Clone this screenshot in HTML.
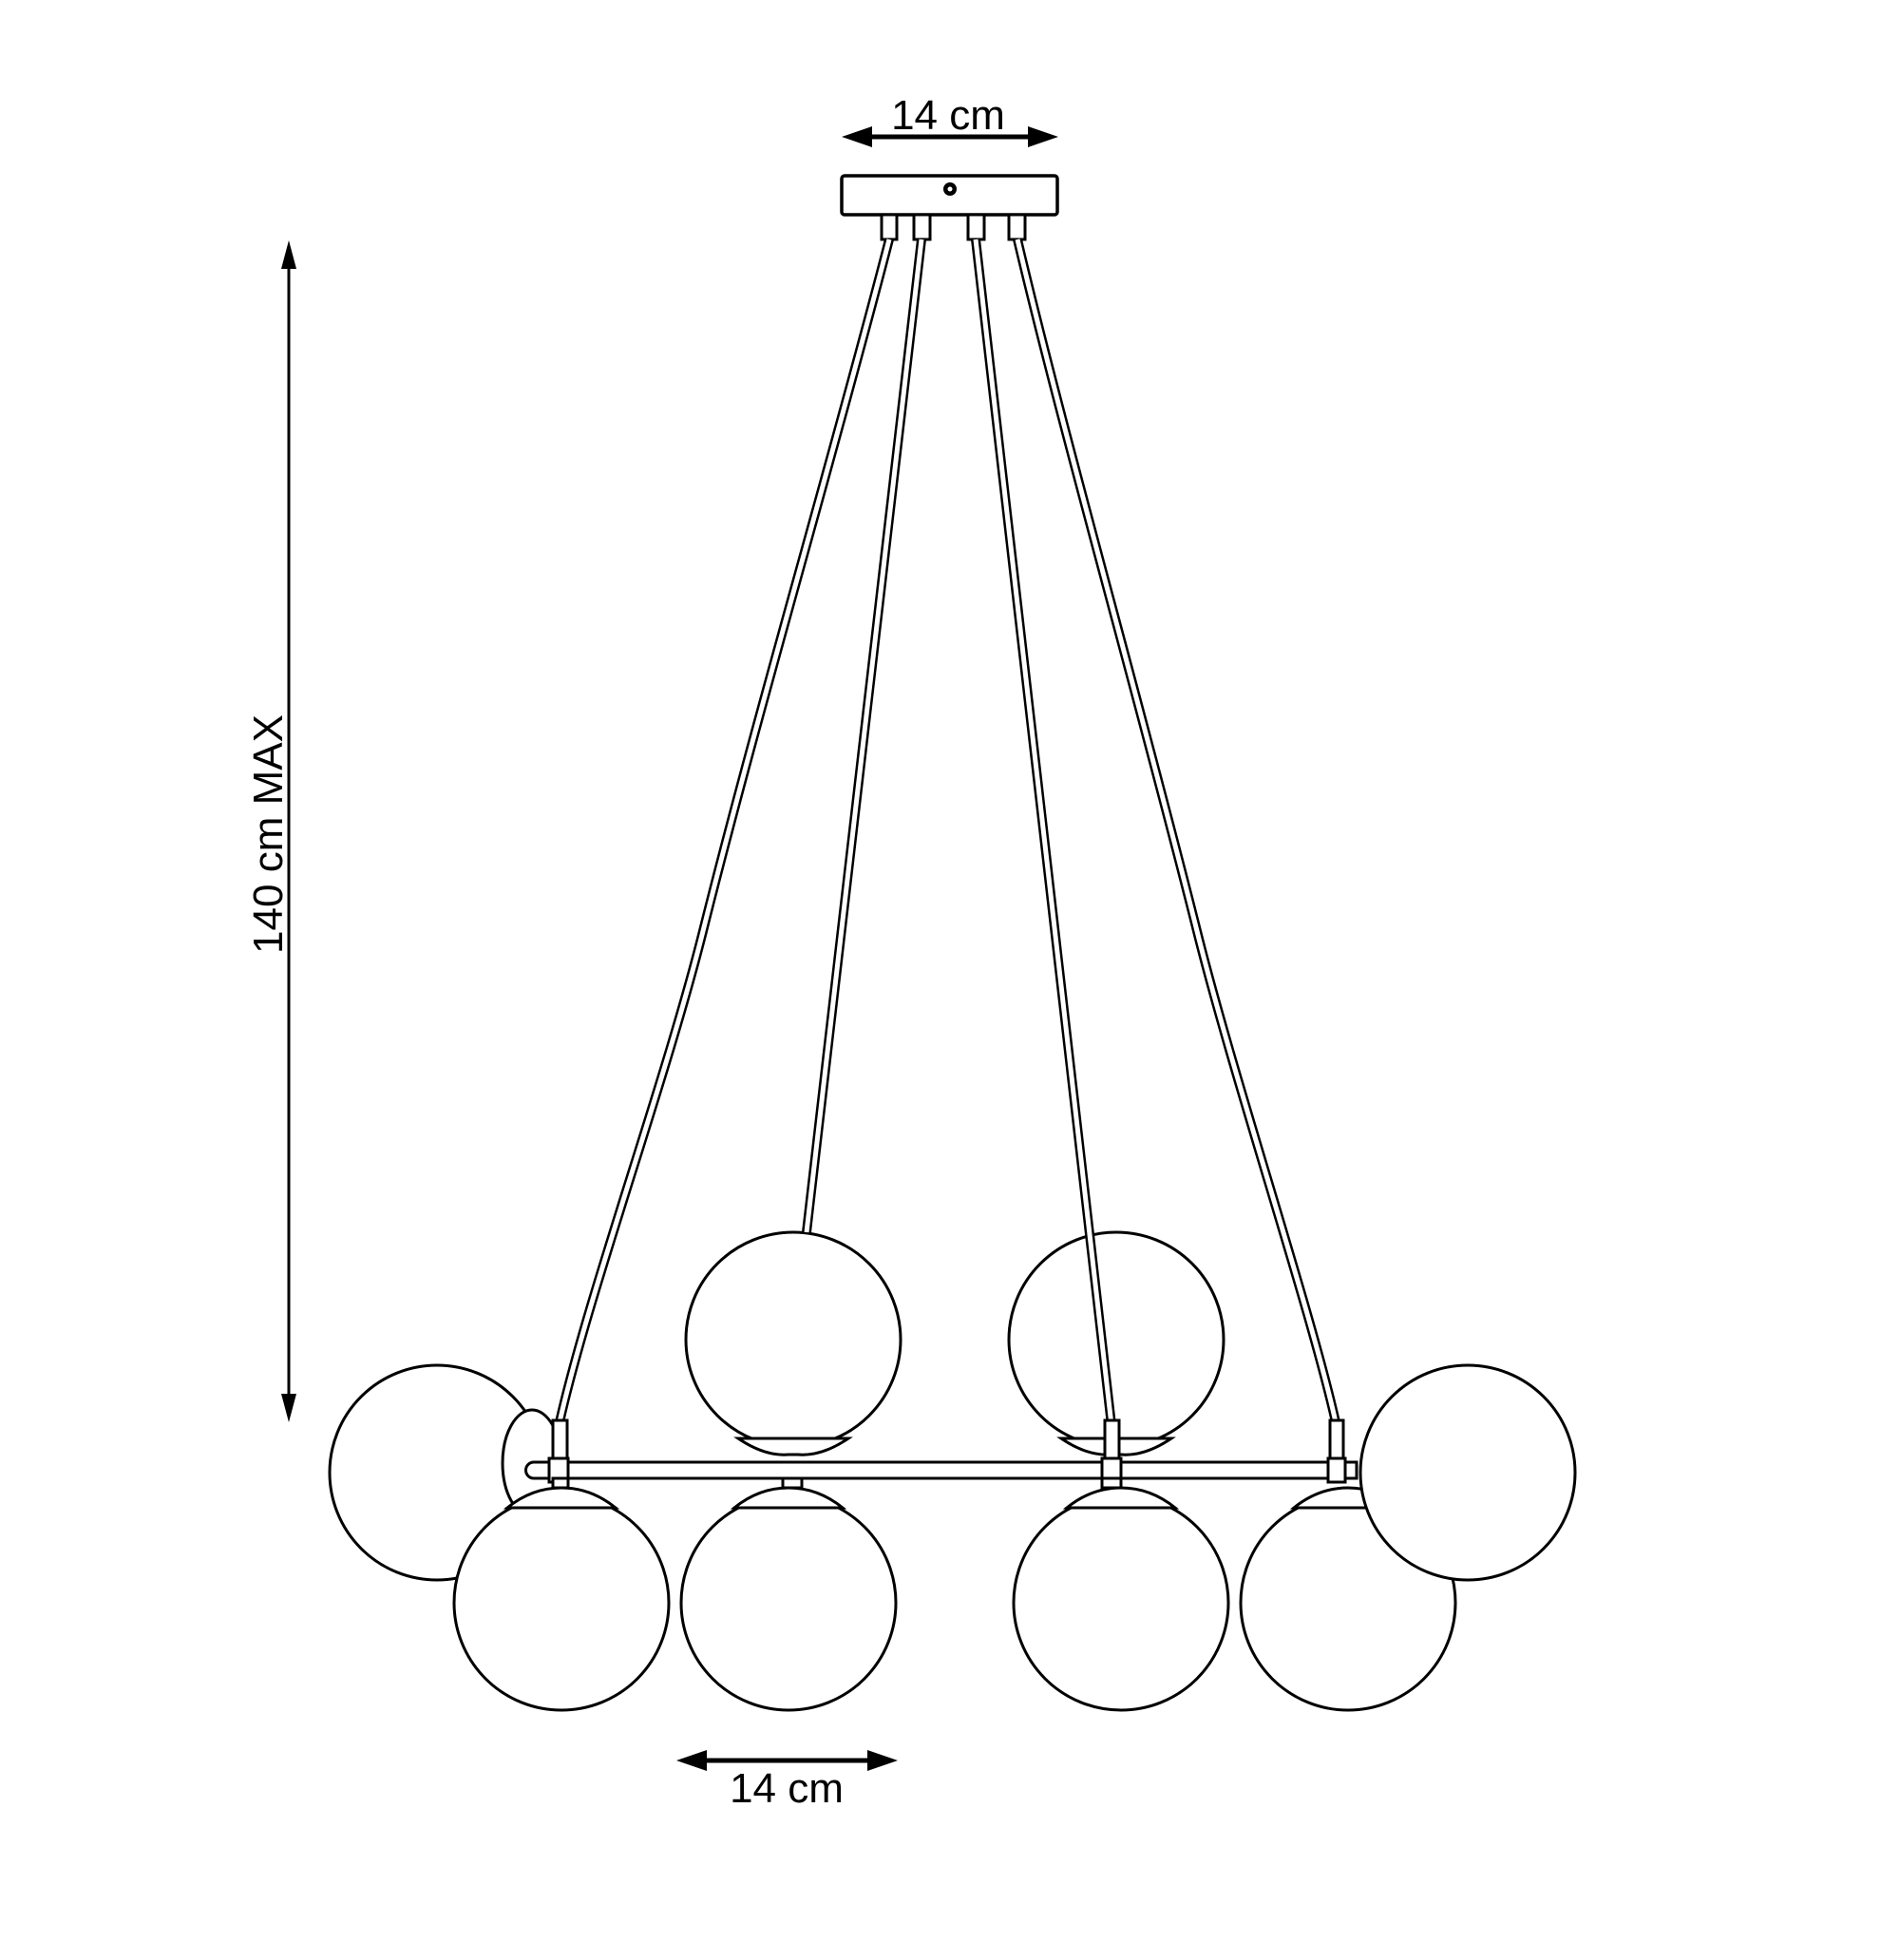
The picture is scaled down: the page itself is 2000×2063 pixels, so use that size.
<!DOCTYPE html>
<html><head><style>html,body{margin:0;padding:0;background:#fff}svg{display:block}</style></head>
<body>
<svg width="2000" height="2063" viewBox="0 0 2000 2063" xmlns="http://www.w3.org/2000/svg">
<defs>
<marker id="ah" markerWidth="10" markerHeight="8" refX="9" refY="4" orient="auto-start-reverse" markerUnits="userSpaceOnUse">
<path d="M0,0 L0,0" />
</marker>
</defs>
<g fill="none" stroke="#000" stroke-width="3">
<!-- top dimension -->
<line x1="905" y1="144" x2="1095" y2="144" stroke-width="5"/>
<polygon points="886,144 918,133 918,155" fill="#000" stroke="none"/>
<polygon points="1114,144 1082,133 1082,155" fill="#000" stroke="none"/>
<!-- canopy -->
<rect x="886" y="185" width="227" height="41" rx="3" fill="#fff" stroke-width="3.5"/>
<circle cx="1000" cy="199" r="7" fill="#000" stroke="none"/>
<circle cx="1000" cy="199" r="2.5" fill="#fff" stroke="none"/>
<rect x="928" y="226" width="16" height="26" fill="#fff"/>
<rect x="962" y="226" width="17" height="26" fill="#fff"/>
<rect x="1019" y="226" width="17" height="26" fill="#fff"/>
<rect x="1062" y="226" width="17" height="26" fill="#fff"/>
<!-- vertical dimension -->
<line x1="304" y1="270" x2="304" y2="1478" stroke-width="3"/>
<polygon points="304,253 296,283 312,283" fill="#000" stroke="none"/>
<polygon points="304,1497 296,1467 312,1467" fill="#000" stroke="none"/>
<!-- bottom dimension -->
<line x1="740" y1="1853" x2="925" y2="1853" stroke-width="5"/>
<polygon points="712,1853 744,1842 744,1864" fill="#000" stroke="none"/>
<polygon points="945,1853 913,1842 913,1864" fill="#000" stroke="none"/>

<!-- left big ball -->
<circle cx="460" cy="1550" r="113" fill="#fff"/>
<ellipse cx="560" cy="1540" rx="31" ry="56" fill="#fff"/>
<!-- upper balls -->
<circle cx="835" cy="1410" r="113" fill="#fff"/>
<path d="M777,1514 L893,1514 Q865,1533 840,1531 L830,1531 Q805,1533 777,1514 Z" fill="#fff"/>
<circle cx="1175" cy="1410" r="113" fill="#fff"/>
<path d="M1117,1514 L1233,1514 Q1205,1533 1180,1531 L1170,1531 Q1145,1533 1117,1514 Z" fill="#fff"/>

<!-- cables: black outer -->
<g stroke-width="10" stroke-linecap="butt">
<path id="c1" d="M936,252 C880,470 800,740 740,980 C700,1140 620,1360 589,1497"/>
<path id="c2" d="M970,252 L849,1297"/>
<path id="c3" d="M1027,252 L1170,1500"/>
<path id="c4" d="M1071,252 C1120,460 1200,740 1260,980 C1300,1140 1380,1380 1406,1497"/>
</g>
<g stroke="#fff" stroke-width="5">
<path d="M936,252 C880,470 800,740 740,980 C700,1140 620,1360 589,1497"/>
<path d="M970,252 L849,1297"/>
<path d="M1027,252 L1170,1500"/>
<path d="M1071,252 C1120,460 1200,740 1260,980 C1300,1140 1380,1380 1406,1497"/>
</g>
<!-- fittings -->
<rect x="582" y="1495" width="15" height="40" fill="#fff"/>
<rect x="1163" y="1495" width="15" height="40" fill="#fff"/>
<rect x="1400" y="1495" width="14" height="40" fill="#fff"/>
<!-- bar -->
<path d="M562,1539 L1428,1539 L1428,1556 L562,1556 A8.5,8.5 0 0 1 562,1539 Z" fill="#fff"/>
<rect x="578" y="1535" width="20" height="25" fill="#fff"/>
<rect x="1160" y="1535" width="20" height="25" fill="#fff"/>
<rect x="1398" y="1535" width="18" height="25" fill="#fff"/>
<rect x="824" y="1556" width="20" height="10" fill="#fff"/>
<rect x="1160" y="1556" width="20" height="10" fill="#fff"/>
<rect x="582" y="1556" width="16" height="10" fill="#fff"/>

<!-- lower balls -->
<circle cx="591" cy="1687" r="113" fill="#fff"/>
<path d="M534,1587 Q560,1566 591,1566 Q622,1566 648,1587 Z" fill="#fff"/>
<circle cx="830" cy="1687" r="113" fill="#fff"/>
<path d="M773,1587 Q799,1566 830,1566 Q861,1566 887,1587 Z" fill="#fff"/>
<circle cx="1180" cy="1687" r="113" fill="#fff"/>
<path d="M1123,1587 Q1149,1566 1180,1566 Q1211,1566 1237,1587 Z" fill="#fff"/>
<circle cx="1419" cy="1687" r="113" fill="#fff"/>
<path d="M1362,1587 Q1388,1566 1419,1566 Q1450,1566 1476,1587 Z" fill="#fff"/>
<!-- right big ball -->
<circle cx="1545" cy="1550" r="113" fill="#fff"/>
</g>
<g font-family="Liberation Sans, sans-serif" fill="#000" font-size="44">
<text x="998" y="136" text-anchor="middle">14 cm</text>
<text x="828" y="1897" text-anchor="middle">14 cm</text>
<text transform="translate(297,878) rotate(-90)" text-anchor="middle">140 cm MAX</text>
</g>
</svg>
</body></html>
